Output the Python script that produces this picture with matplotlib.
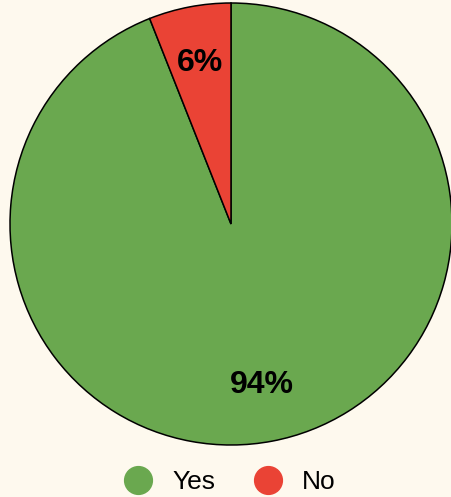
import matplotlib.pyplot as plt
from matplotlib.lines import Line2D

# survey answers
labels = ['Yes', 'No']
shares = [94, 6]
colors = ['#6aa84f', '#ea4335']
bg = '#fef9ee'

plt.rcParams['font.family'] = ['Liberation Sans', 'DejaVu Sans']

fig = plt.figure(figsize=(4.52, 4.97), dpi=100, facecolor=bg)
ax = fig.add_axes([10 / 452, 52 / 497, 442 / 452, 442 / 497])
ax.set_facecolor(bg)

wedges, texts, autotexts = ax.pie(
    shares, colors=colors, startangle=90, counterclock=False,
    autopct=lambda p: '{:.0f}%'.format(p), pctdistance=0.74,
    wedgeprops={'edgecolor': 'black', 'linewidth': 1.1, 'clip_on': False},
    textprops={'fontsize': 23, 'fontweight': 'bold', 'color': 'black'})
ax.set_xlim(-1, 1)
ax.set_ylim(-1, 1)
ax.set_aspect('equal')

handles = [Line2D([], [], linestyle='none', marker='o', markersize=20,
                  markerfacecolor=c, markeredgecolor=c) for c in colors]
fig.legend(handles, labels, loc='center', bbox_to_anchor=(229 / 452, 1 - 482 / 497),
           ncol=2, frameon=False, fontsize=19, handlelength=1.2,
           handletextpad=0.7, columnspacing=1.4)

fig.savefig('out.png', dpi=100, facecolor=bg)
